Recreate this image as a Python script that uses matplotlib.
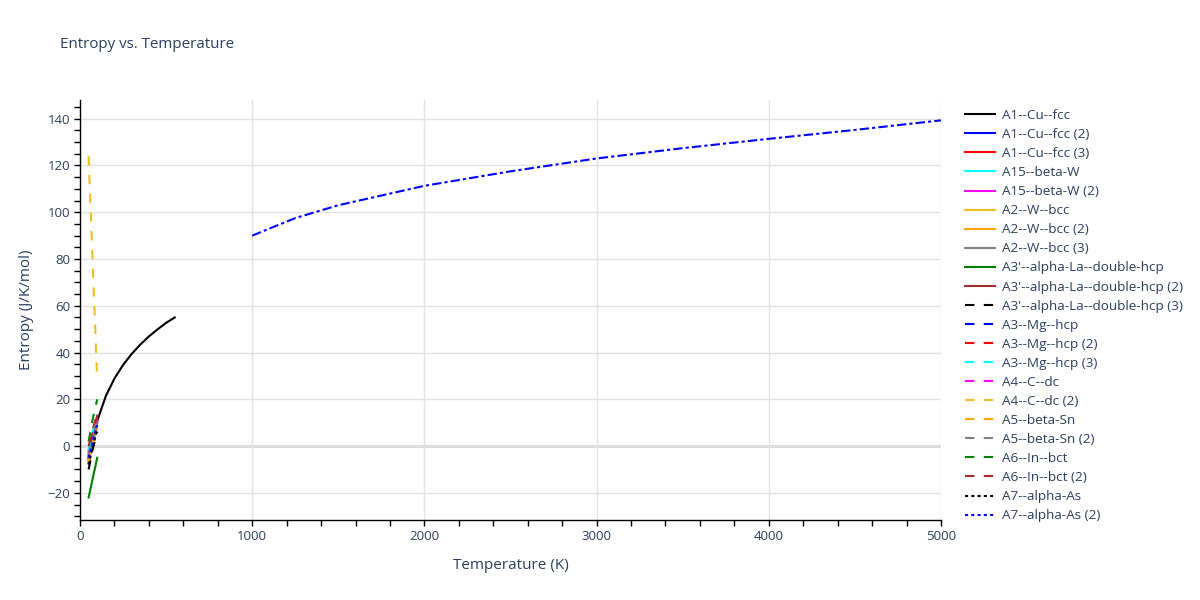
import matplotlib
matplotlib.use("Agg")
from matplotlib import pyplot as plt
from matplotlib.ticker import MultipleLocator

plt.rcParams['font.family'] = ['Open Sans', 'DejaVu Sans']

# short series, all sampled at the same temperatures
t_short = [50, 75, 100]

# A1--Cu--fcc, the long black curve
t_cu = [50, 75, 100, 150, 200, 250, 300, 350, 400, 450, 500, 550]
s_cu = [-7.2, 3.4, 10.8, 21.4, 28.9, 34.7, 39.4, 43.4, 46.9, 49.9, 52.7, 55.0]

s_cu2 = [-5.0, 3.0, 10.0]
s_cu3 = [-6.0, 3.5, 11.0]
s_bw = [-3.0, 6.0, 13.0]
s_bw2 = [-4.0, 5.0, 12.0]
s_w = [-6.0, 2.0, 9.0]
s_w2 = [-7.0, 1.0, 8.0]
s_w3 = [-5.0, 3.0, 10.0]
s_la = [-22.0, -13.5, -5.0]
s_la2 = [-2.0, 6.0, 13.0]
s_la3 = [-10.0, -1.0, 6.0]
s_mg = [-4.0, 4.0, 11.0]
s_mg2 = [-3.0, 5.0, 12.0]
s_mg3 = [-2.0, 6.5, 13.0]
s_c = [-5.0, 3.0, 10.0]
s_c2 = [124.0, 76.0, 28.0]
s_sn = [-6.0, 1.5, 8.0]
s_sn2 = [-4.0, 3.5, 10.0]
s_in = [2.0, 12.0, 20.0]
s_in2 = [0.0, 7.5, 14.0]
s_as = [-8.0, 0.0, 7.0]
s_as2 = [-5.0, 2.5, 9.0]

# blue dash-dot series at high temperature
t_hi = [1000, 1250, 1500, 2000, 2500, 3000, 3500, 4000, 4500, 5000]
s_hi = [90.0, 97.5, 103.0, 111.3, 117.5, 123.0, 127.4, 131.4, 135.2, 139.3]

yellow = '#EDC01F'
solid = '-'
dash = (0, (4.5, 4.5))
dot = (0, (1.5, 1.5))
dashdot = (0, (4.5, 1.5, 1.5, 1.5))

series = [
    ("A1--Cu--fcc", t_cu, s_cu, 'black', solid),
    ("A1--Cu--fcc (2)", t_short, s_cu2, 'blue', solid),
    ("A1--Cu--fcc (3)", t_short, s_cu3, 'red', solid),
    ("A15--beta-W", t_short, s_bw, 'cyan', solid),
    ("A15--beta-W (2)", t_short, s_bw2, 'magenta', solid),
    ("A2--W--bcc", t_short, s_w, yellow, solid),
    ("A2--W--bcc (2)", t_short, s_w2, 'orange', solid),
    ("A2--W--bcc (3)", t_short, s_w3, 'gray', solid),
    ("A3'--alpha-La--double-hcp", t_short, s_la, 'green', solid),
    ("A3'--alpha-La--double-hcp (2)", t_short, s_la2, 'brown', solid),
    ("A3'--alpha-La--double-hcp (3)", t_short, s_la3, 'black', dash),
    ("A3--Mg--hcp", t_short, s_mg, 'blue', dash),
    ("A3--Mg--hcp (2)", t_short, s_mg2, 'red', dash),
    ("A3--Mg--hcp (3)", t_short, s_mg3, 'cyan', dash),
    ("A4--C--dc", t_short, s_c, 'magenta', dash),
    ("A4--C--dc (2)", t_short, s_c2, yellow, dash),
    ("A5--beta-Sn", t_short, s_sn, 'orange', dash),
    ("A5--beta-Sn (2)", t_short, s_sn2, 'gray', dash),
    ("A6--In--bct", t_short, s_in, 'green', dash),
    ("A6--In--bct (2)", t_short, s_in2, 'brown', dash),
    ("A7--alpha-As", t_short, s_as, 'black', dot),
    ("A7--alpha-As (2)", t_short, s_as2, 'blue', dot),
]

text_color = '#2a3f5f'

fig = plt.figure(figsize=(12, 6), dpi=100)
ax = fig.add_axes([80 / 1200, 80 / 600, 861 / 1200, 420 / 600])

for name, t, s, c, ls in series:
    ax.plot(t, s, color=c, linestyle=ls, linewidth=1.5, label=name)
ax.plot(t_hi, s_hi, color='blue', linestyle=dashdot, linewidth=1.5, label='_nolegend_')

ax.set_xlim(0, 5000)
ax.set_ylim(-31.6, 148)
ax.xaxis.set_major_locator(MultipleLocator(1000))
ax.xaxis.set_minor_locator(MultipleLocator(200))
ax.yaxis.set_major_locator(MultipleLocator(20))
ax.yaxis.set_minor_locator(MultipleLocator(5))

ax.grid(True, which='major', color='#e2e2e2', linewidth=1)
ax.axhline(0, color='#d6d6d6', linewidth=2, zorder=0.5)
ax.set_axisbelow(True)
for side in ['top', 'right']:
    ax.spines[side].set_visible(False)
for side in ['left', 'bottom']:
    ax.spines[side].set_color('black')
    ax.spines[side].set_linewidth(1)

ax.tick_params(which='both', direction='out', length=4, width=1, color='black',
               labelcolor=text_color, labelsize=9.5)
ax.tick_params(which='major', pad=3)

ax.set_xlabel("Temperature (K)", color=text_color, fontsize=11, labelpad=11)
ax.set_ylabel("Entropy (J/K/mol)", color=text_color, fontsize=11, labelpad=10)

fig.text(60 / 1200, 1 - 45 / 600, "Entropy vs. Temperature", color=text_color,
         fontsize=10.9, va='center', ha='left')

leg = ax.legend(loc='upper left', bbox_to_anchor=(965 / 1200, 1 - 109 / 600),
                bbox_transform=fig.transFigure, frameon=False, fontsize=9.7,
                handlelength=2.2, handletextpad=0.55, labelspacing=0.45,
                borderaxespad=0, borderpad=0)
for txt in leg.get_texts():
    txt.set_color(text_color)

fig.savefig("out.png", dpi=100)
